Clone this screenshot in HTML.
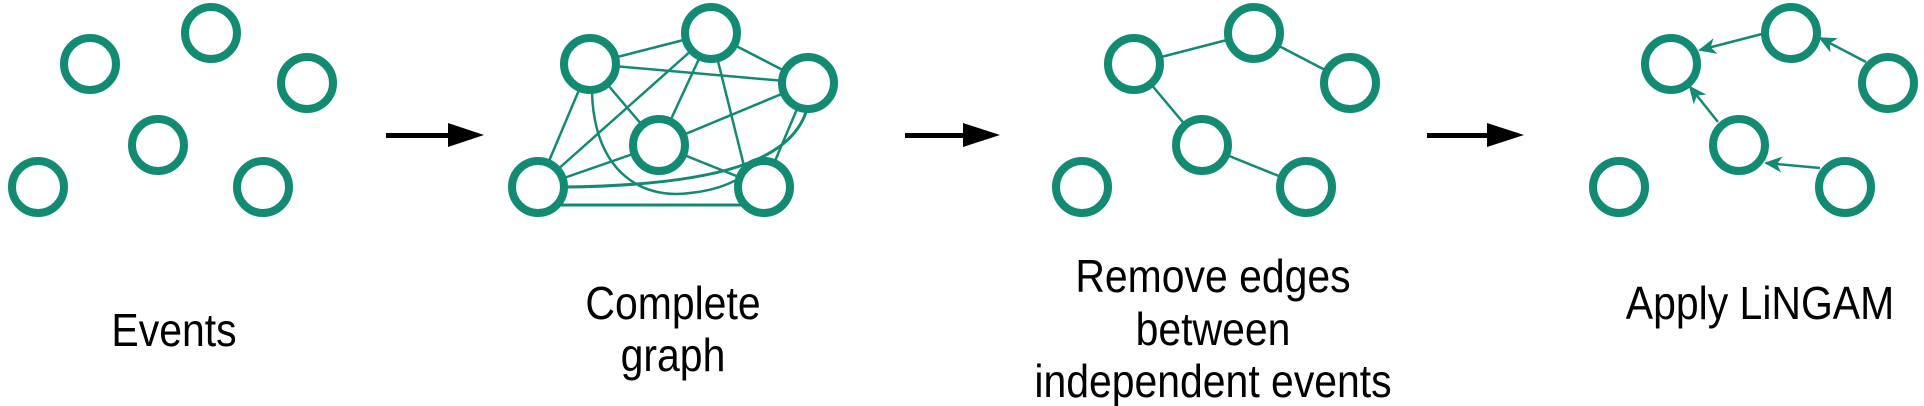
<!DOCTYPE html>
<html><head><meta charset="utf-8"><style>
html,body{margin:0;padding:0;background:#fff;}
svg{display:block}
text{font-family:"Liberation Sans",sans-serif;font-size:46px;fill:#000;text-anchor:middle}
</style></head><body>
<svg width="1924" height="406" viewBox="0 0 1924 406" xmlns="http://www.w3.org/2000/svg">
<defs>
<marker id="ah" viewBox="0 0 20 20" refX="18" refY="10" markerWidth="20" markerHeight="20" markerUnits="userSpaceOnUse" orient="auto">
<path d="M20,10 L2,2 L7,10 L2,18 Z" fill="#138a72"/>
</marker>
</defs>
<g fill="none" stroke="#138a72" stroke-width="2.5">
<line x1="590" y1="64" x2="711" y2="33"/>
<line x1="711" y1="33" x2="808" y2="83"/>
<line x1="590" y1="64" x2="808" y2="83"/>
<line x1="590" y1="64" x2="538" y2="187"/>
<line x1="590" y1="64" x2="659" y2="145"/>
<line x1="711" y1="33" x2="538" y2="187"/>
<line x1="711" y1="33" x2="659" y2="145"/>
<line x1="711" y1="33" x2="745" y2="170"/>
<line x1="808" y1="83" x2="659" y2="145"/>
<line x1="808" y1="83" x2="764" y2="187"/>
<line x1="659" y1="145" x2="538" y2="187"/>
<line x1="659" y1="145" x2="764" y2="187"/>
<line x1="538" y1="205" x2="764" y2="205" stroke-width="3"/>
<path d="M592,92 C594,170 640,200 690,193 C720,190 740,180 750,170"/>
<path d="M806,112 C790,160 720,185 566,187" stroke-width="3"/>
<line x1="1134" y1="64" x2="1254" y2="33"/>
<line x1="1254" y1="33" x2="1350" y2="83"/>
<line x1="1134" y1="64" x2="1202" y2="145"/>
<line x1="1202" y1="145" x2="1306" y2="187"/>
<line x1="1762" y1="34" x2="1700" y2="50" marker-end="url(#ah)"/>
<line x1="1866" y1="62" x2="1820" y2="38" marker-end="url(#ah)"/>
<line x1="1718" y1="122" x2="1690" y2="87" marker-end="url(#ah)"/>
<line x1="1820" y1="168" x2="1766" y2="163" marker-end="url(#ah)"/>
</g>
<g fill="#fff" stroke="#138a72" stroke-width="8">
<circle cx="90" cy="64" r="26"/><circle cx="211" cy="33" r="26"/><circle cx="307" cy="83" r="26"/>
<circle cx="158" cy="145" r="26"/><circle cx="38" cy="187" r="26"/><circle cx="263" cy="187" r="26"/>
<circle cx="590" cy="64" r="26"/><circle cx="711" cy="33" r="26"/><circle cx="808" cy="83" r="26"/>
<circle cx="659" cy="145" r="26"/><circle cx="538" cy="187" r="26"/><circle cx="764" cy="187" r="26"/>
<circle cx="1134" cy="64" r="26"/><circle cx="1254" cy="33" r="26"/><circle cx="1350" cy="83" r="26"/>
<circle cx="1202" cy="145" r="26"/><circle cx="1082" cy="187" r="26"/><circle cx="1306" cy="187" r="26"/>
<circle cx="1671" cy="64" r="26"/><circle cx="1791" cy="33" r="26"/><circle cx="1888" cy="83" r="26"/>
<circle cx="1739" cy="145" r="26"/><circle cx="1619" cy="187" r="26"/><circle cx="1845" cy="187" r="26"/>
</g>
<g fill="#000">
<rect x="386" y="133" width="66" height="5"/><path d="M448,123 L484,135 L448,147 Z"/>
<rect x="905" y="133" width="62" height="5"/><path d="M963,123 L1000,135 L963,147 Z"/>
<rect x="1427" y="133" width="64" height="5"/><path d="M1487,123 L1524,135 L1487,147 Z"/>
</g>
<g transform="translate(174,0) scale(0.89,1)"><text x="0" y="346">Events</text></g>
<g transform="translate(673,0) scale(0.89,1)"><text x="0" y="319">Complete</text><text x="0" y="371">graph</text></g>
<g transform="translate(1213,0) scale(0.89,1)"><text x="0" y="292">Remove edges</text><text x="0" y="345">between</text><text x="0" y="397">independent events</text></g>
<g transform="translate(1760,0) scale(0.89,1)"><text x="0" y="319">Apply LiNGAM</text></g>
</svg>
</body></html>
